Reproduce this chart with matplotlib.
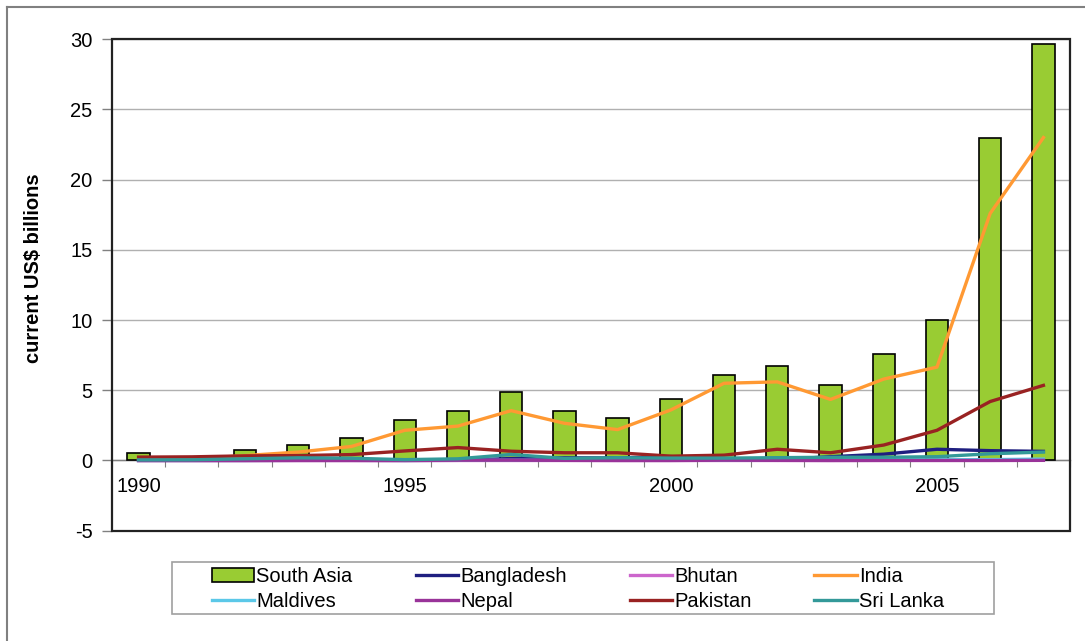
import numpy as np
import matplotlib
matplotlib.use("Agg")
import matplotlib.pyplot as plt
from matplotlib.lines import Line2D

plt.rcParams['font.family'] = ['Liberation Sans', 'DejaVu Sans']
plt.rcParams['axes.unicode_minus'] = False

# FDI inflows, current US$ billions
years = list(range(1990, 2008))
south_asia = [0.55, np.nan, 0.72, 1.1, 1.6, 2.9, 3.5, 4.85, 3.5, 3.05,
              4.35, 6.1, 6.7, 5.35, 7.55, 10.0, 22.95, 29.65]
bangladesh = [0.0, 0.0, 0.0, 0.01, 0.01, 0.0, 0.01, 0.14, 0.19, 0.18,
              0.28, 0.08, 0.05, 0.27, 0.45, 0.8, 0.7, 0.65]
bhutan = [0.0, 0.0, 0.0, 0.0, 0.0, 0.0, 0.0, 0.0, 0.0, 0.0,
          0.0, 0.0, 0.0, 0.0, 0.01, 0.01, 0.01, 0.01]
india = [0.2, 0.1, 0.35, 0.6, 1.0, 2.15, 2.45, 3.55, 2.65, 2.2,
         3.6, 5.5, 5.6, 4.35, 5.8, 6.65, 17.6, 23.0]
maldives = [0.01, 0.01, 0.01, 0.01, 0.01, 0.01, 0.01, 0.01, 0.01, 0.01,
            0.01, 0.01, 0.01, 0.03, 0.05, 0.05, 0.06, 0.1]
nepal = [0.0, 0.0, 0.0, 0.0, 0.0, 0.0, 0.02, 0.02, 0.01, 0.0,
         0.0, 0.02, 0.01, 0.0, 0.0, 0.0, 0.0, 0.01]
pakistan = [0.24, 0.26, 0.33, 0.35, 0.42, 0.68, 0.92, 0.66, 0.55, 0.55,
            0.31, 0.38, 0.8, 0.55, 1.1, 2.15, 4.2, 5.35]
sri_lanka = [0.04, 0.05, 0.12, 0.19, 0.16, 0.06, 0.12, 0.43, 0.15, 0.2,
             0.17, 0.17, 0.2, 0.23, 0.23, 0.27, 0.48, 0.6]

lines = [
    ("Bangladesh", bangladesh, "#1F1F80"),
    ("Bhutan", bhutan, "#CC66CC"),
    ("India", india, "#FF9933"),
    ("Maldives", maldives, "#5BC8E8"),
    ("Nepal", nepal, "#993399"),
    ("Pakistan", pakistan, "#992222"),
    ("Sri Lanka", sri_lanka, "#339999"),
]

fig = plt.figure(figsize=(10.85, 6.41), dpi=100)
ax = fig.add_axes([0.1032, 0.1721, 0.8830, 0.7666])

x = np.arange(len(years))
ax.bar(x, south_asia, width=0.42, color="#99CC33", edgecolor="black",
       linewidth=1.2, label="South Asia", zorder=3)
for name, vals, col in lines:
    ax.plot(x, vals, color=col, linewidth=2.4, label=name, zorder=4)

ax.set_xlim(-0.5, len(years) - 0.5)
ax.set_ylim(-5, 30)
ax.set_yticks(range(-5, 31, 5))
ax.tick_params(axis='y', direction='out', length=7, width=1, pad=7,
               labelsize=14.5, color='#808080')
ax.yaxis.grid(True, color='#B0B0B0', linewidth=1)
ax.set_axisbelow(True)

# category axis sits on the zero line
for s in ['top', 'right', 'left']:
    ax.spines[s].set_visible(False)
ax.spines['bottom'].set_position(('data', 0))
ax.spines['bottom'].set_color('#808080')
ax.spines['bottom'].set_linewidth(1)
ax.set_xticks(np.arange(-0.5, len(years), 1))
ax.set_xticklabels([])
ax.tick_params(axis='x', which='major', direction='out', length=5,
               color='#808080')
ax.set_xticks([i for i, y in enumerate(years) if y % 5 == 0], minor=True)
ax.set_xticklabels([str(y) for y in years if y % 5 == 0], minor=True)
ax.tick_params(axis='x', which='minor', length=0, pad=12, labelsize=14.5)

# plot area frame
ax.add_patch(plt.Rectangle((0, 0), 1, 1, transform=ax.transAxes, fill=False,
                           edgecolor='#222222', linewidth=1.6, zorder=5,
                           clip_on=False))

ax.set_ylabel("current US$ billions", fontsize=14.5, fontweight='bold')
ax.yaxis.set_label_coords(-0.072, 0.535)

# legend: rows are South Asia, Bangladesh, Bhutan, India / Maldives, Nepal,
# Pakistan, Sri Lanka; matplotlib fills by column
handles, labels = ax.get_legend_handles_labels()
hmap = dict(zip(labels, handles))
leg_order = ["South Asia", "Maldives", "Bangladesh", "Nepal",
             "Bhutan", "Pakistan", "India", "Sri Lanka"]
fig.legend([hmap[n] for n in leg_order], leg_order, loc='center',
           bbox_to_anchor=(198 / 1085, 1 - 615 / 641, 760 / 1085, 52 / 641),
           mode='expand', ncol=4, fontsize=14.5, frameon=False,
           handlelength=2.1, handletextpad=0.1, borderpad=0.2,
           labelspacing=0.3)
fig.add_artist(plt.Rectangle((172 / 1085, 1 - 614 / 641), 822 / 1085,
                             52 / 641, transform=fig.transFigure, fill=False,
                             edgecolor='#A0A0A0', linewidth=1.2))

# outer chart border
fig.add_artist(Line2D([7 / 1085, 7 / 1085], [0, 1 - 7 / 641],
                      color='#808080', linewidth=1.5))
fig.add_artist(Line2D([7 / 1085, 1], [1 - 7 / 641, 1 - 7 / 641],
                      color='#808080', linewidth=1.5))

fig.savefig("out.png", dpi=100)
